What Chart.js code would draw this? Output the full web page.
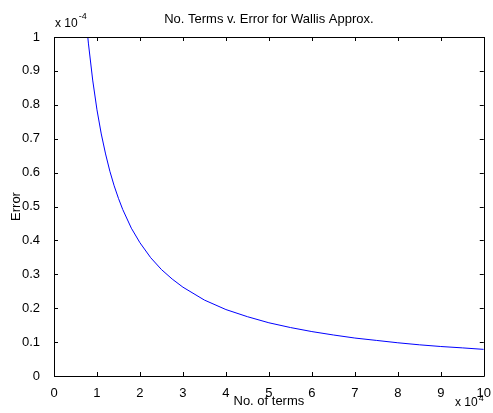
<!DOCTYPE html>
<html>
<head>
<meta charset="utf-8">
<script src="https://cdn.jsdelivr.net/npm/chart.js@4/dist/chart.umd.min.js"></script>
<style>
html,body{margin:0;padding:0;background:#fff;}
#wrap{width:493px;height:413px;}
</style>
</head>
<body>
<div id="wrap"><canvas id="c" width="493" height="413"></canvas></div>
<script>
// Number of terms (units of 10^4)
const termsX = [0.75, 0.8, 0.9, 1.0, 1.1, 1.2, 1.3, 1.4, 1.5, 1.6, 1.8, 2.0, 2.25, 2.5, 2.75, 3.0, 3.5, 4.0, 4.5, 5.0, 5.5, 6.0, 6.5, 7.0, 7.5, 8.0, 8.5, 9.0, 9.5, 10.0];
// Error (units of 10^-4)
const errorY = [1.047, 0.982, 0.873, 0.785, 0.714, 0.655, 0.604, 0.561, 0.524, 0.491, 0.436, 0.393, 0.349, 0.314, 0.286, 0.262, 0.224, 0.196, 0.175, 0.157, 0.143, 0.131, 0.121, 0.112, 0.105, 0.098, 0.092, 0.087, 0.083, 0.0785];
const xTicks = [0,1,2,3,4,5,6,7,8,9,10];
const yTicks = [0,0.1,0.2,0.3,0.4,0.5,0.6,0.7,0.8,0.9,1];
const titleText = "No. Terms v. Error for Wallis Approx.";
const xLabel = "No. of terms";
const yLabel = "Error";
const xExp = "4";
const yExp = "-4";

const FONT = "'Liberation Sans', Arial, sans-serif";

const boxPlugin = {
  id: 'box',
  afterDraw(chart) {
    const ctx = chart.ctx, a = chart.chartArea;
    const xs = chart.scales.x, ys = chart.scales.y;
    ctx.save();
    ctx.strokeStyle = '#000';
    ctx.lineWidth = 1;
    ctx.beginPath();
    ctx.rect(Math.round(a.left)+0.5, Math.round(a.top)+0.5, Math.round(a.right-a.left), Math.round(a.bottom-a.top));
    ctx.stroke();
    const L = 4;
    ctx.beginPath();
    xTicks.forEach(v => {
      const p = Math.round(xs.getPixelForValue(v)) + 0.5;
      ctx.moveTo(p, a.bottom); ctx.lineTo(p, a.bottom - L);
      ctx.moveTo(p, a.top); ctx.lineTo(p, a.top + L);
    });
    yTicks.forEach(v => {
      const p = Math.round(ys.getPixelForValue(v)) + 0.5;
      ctx.moveTo(a.left, p); ctx.lineTo(a.left + L, p);
      ctx.moveTo(a.right, p); ctx.lineTo(a.right - L, p);
    });
    ctx.stroke();
    ctx.fillStyle = '#000';
    // title centred over the axes
    ctx.font = '13px ' + FONT;
    ctx.textAlign = 'center';
    ctx.textBaseline = 'middle';
    ctx.fillText(titleText, (a.left + a.right) / 2, 19);
    // exponent labels
    ctx.textBaseline = 'alphabetic';
    ctx.textAlign = 'left';
    ctx.font = '12px ' + FONT;
    let t = 'x 10';
    let x0 = a.left + 1, y0 = a.top - 10;
    ctx.fillText(t, x0, y0);
    let w = ctx.measureText(t).width;
    ctx.font = '9px ' + FONT;
    ctx.fillText(yExp, x0 + w + 1, y0 - 8);
    ctx.font = '12px ' + FONT;
    x0 = 455; y0 = a.bottom + 30;
    ctx.fillText(t, x0, y0);
    w = ctx.measureText(t).width;
    ctx.font = '9px ' + FONT;
    ctx.fillText(xExp, x0 + w + 1, y0 - 5);
    ctx.restore();
  }
};

new Chart(document.getElementById('c'), {
  type: 'line',
  data: {
    datasets: [{
      data: termsX.map((x, i) => ({x: x, y: errorY[i]})),
      borderColor: '#0000ff',
      borderWidth: 1,
      pointRadius: 0,
      tension: 0,
      fill: false
    }]
  },
  options: {
    responsive: false,
    animation: false,
    devicePixelRatio: 1,
    layout: {padding: {left: 9, right: 6, top: 37, bottom: 0}},
    plugins: {
      legend: {display: false},
      tooltip: {enabled: false},
      title: {display: false}
    },
    scales: {
      x: {
        type: 'linear', min: 0, max: 10,
        afterBuildTicks(s) { s.ticks = xTicks.map(v => ({value: v})); },
        afterFit(s) { s.height = 37; },
        grid: {display: false},
        border: {display: false},
        ticks: {color: '#000', font: {family: FONT, size: 13}, padding: 2, maxRotation: 0,
          callback: v => String(v)},
        title: {display: true, text: xLabel, color: '#000', font: {family: FONT, size: 13}, padding: {top: 0, bottom: 4}}
      },
      y: {
        type: 'linear', min: 0, max: 1,
        afterBuildTicks(s) { s.ticks = yTicks.map(v => ({value: v})); },
        afterFit(s) { s.width = 45; },
        grid: {display: false},
        border: {display: false},
        ticks: {color: '#000', font: {family: FONT, size: 13}, padding: 6,
          callback: v => (v === 0 || v === 1) ? String(v) : v.toFixed(1)},
        title: {display: true, text: yLabel, color: '#000', font: {family: FONT, size: 13}, padding: {top: 0, bottom: 0}}
      }
    }
  },
  plugins: [boxPlugin]
});
</script>
</body>
</html>
